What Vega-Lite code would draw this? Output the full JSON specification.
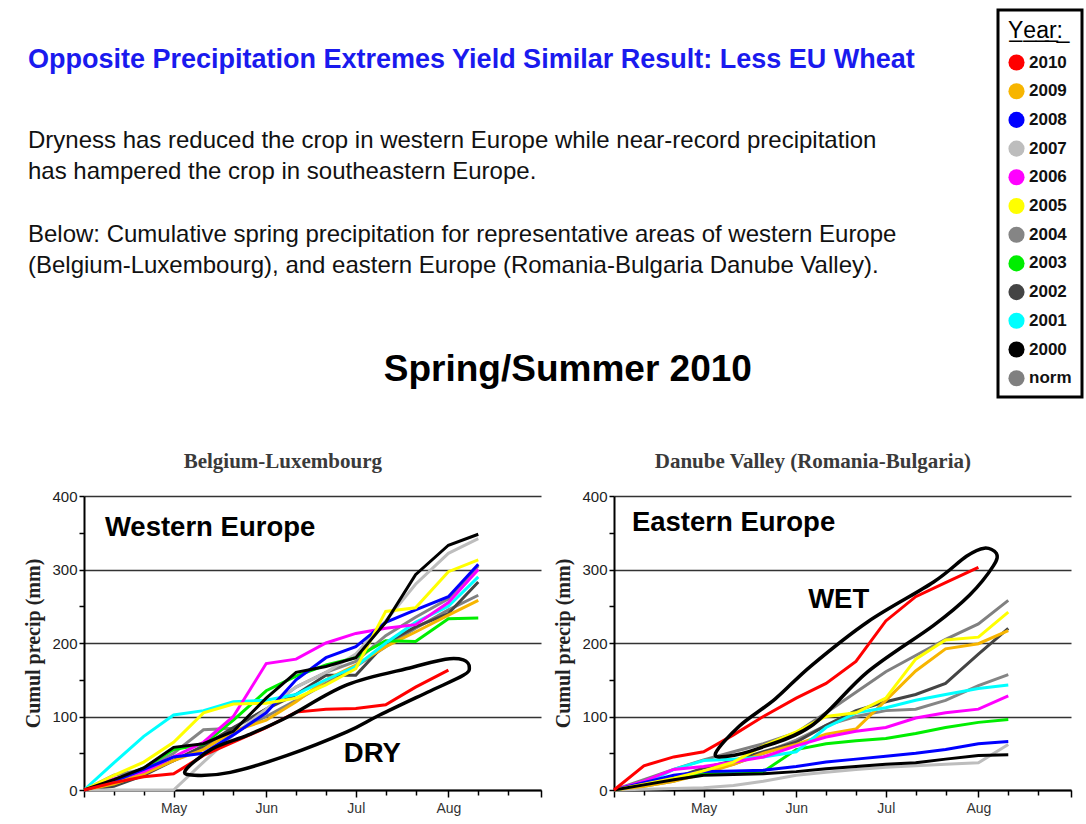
{
  "$schema": "https://vega.github.io/schema/vega-lite/v6.json",
  "padding": {"left": 23, "top": 8, "right": 0, "bottom": 6},
  "background": "white",
  "datasets": {
    "west": [
      {"yr":"norm","d":"2010-04-01","v":0},{"yr":"norm","d":"2010-04-11","v":12},{"yr":"norm","d":"2010-04-21","v":25},{"yr":"norm","d":"2010-05-01","v":40},{"yr":"norm","d":"2010-05-11","v":58},{"yr":"norm","d":"2010-05-21","v":78},{"yr":"norm","d":"2010-06-01","v":100},{"yr":"norm","d":"2010-06-11","v":122},{"yr":"norm","d":"2010-06-21","v":145},{"yr":"norm","d":"2010-07-01","v":168},{"yr":"norm","d":"2010-07-11","v":195},{"yr":"norm","d":"2010-07-21","v":220},{"yr":"norm","d":"2010-08-01","v":245},{"yr":"norm","d":"2010-08-11","v":265},
      {"yr":"2004","d":"2010-04-01","v":0},{"yr":"2004","d":"2010-04-11","v":20},{"yr":"2004","d":"2010-04-21","v":28},{"yr":"2004","d":"2010-05-01","v":50},{"yr":"2004","d":"2010-05-11","v":82},{"yr":"2004","d":"2010-05-21","v":84},{"yr":"2004","d":"2010-06-01","v":110},{"yr":"2004","d":"2010-06-11","v":140},{"yr":"2004","d":"2010-06-21","v":160},{"yr":"2004","d":"2010-07-01","v":175},{"yr":"2004","d":"2010-07-11","v":210},{"yr":"2004","d":"2010-07-21","v":235},{"yr":"2004","d":"2010-08-01","v":260},{"yr":"2004","d":"2010-08-11","v":305},
      {"yr":"2002","d":"2010-04-01","v":0},{"yr":"2002","d":"2010-04-11","v":5},{"yr":"2002","d":"2010-04-21","v":20},{"yr":"2002","d":"2010-05-01","v":40},{"yr":"2002","d":"2010-05-11","v":60},{"yr":"2002","d":"2010-05-21","v":85},{"yr":"2002","d":"2010-06-01","v":110},{"yr":"2002","d":"2010-06-11","v":130},{"yr":"2002","d":"2010-06-21","v":156},{"yr":"2002","d":"2010-07-01","v":156},{"yr":"2002","d":"2010-07-11","v":200},{"yr":"2002","d":"2010-07-21","v":222},{"yr":"2002","d":"2010-08-01","v":240},{"yr":"2002","d":"2010-08-11","v":283},
      {"yr":"2007","d":"2010-04-01","v":0},{"yr":"2007","d":"2010-04-11","v":0},{"yr":"2007","d":"2010-04-21","v":0},{"yr":"2007","d":"2010-05-01","v":0},{"yr":"2007","d":"2010-05-11","v":38},{"yr":"2007","d":"2010-05-21","v":75},{"yr":"2007","d":"2010-06-01","v":110},{"yr":"2007","d":"2010-06-11","v":140},{"yr":"2007","d":"2010-06-21","v":160},{"yr":"2007","d":"2010-07-01","v":185},{"yr":"2007","d":"2010-07-11","v":230},{"yr":"2007","d":"2010-07-21","v":280},{"yr":"2007","d":"2010-08-01","v":322},{"yr":"2007","d":"2010-08-11","v":342},
      {"yr":"2009","d":"2010-04-01","v":0},{"yr":"2009","d":"2010-04-11","v":8},{"yr":"2009","d":"2010-04-21","v":22},{"yr":"2009","d":"2010-05-01","v":40},{"yr":"2009","d":"2010-05-11","v":55},{"yr":"2009","d":"2010-05-21","v":80},{"yr":"2009","d":"2010-06-01","v":95},{"yr":"2009","d":"2010-06-11","v":120},{"yr":"2009","d":"2010-06-21","v":150},{"yr":"2009","d":"2010-07-01","v":170},{"yr":"2009","d":"2010-07-11","v":195},{"yr":"2009","d":"2010-07-21","v":215},{"yr":"2009","d":"2010-08-01","v":238},{"yr":"2009","d":"2010-08-11","v":258},
      {"yr":"2003","d":"2010-04-01","v":0},{"yr":"2003","d":"2010-04-11","v":12},{"yr":"2003","d":"2010-04-21","v":30},{"yr":"2003","d":"2010-05-01","v":55},{"yr":"2003","d":"2010-05-11","v":62},{"yr":"2003","d":"2010-05-21","v":95},{"yr":"2003","d":"2010-06-01","v":135},{"yr":"2003","d":"2010-06-11","v":155},{"yr":"2003","d":"2010-06-21","v":170},{"yr":"2003","d":"2010-07-01","v":180},{"yr":"2003","d":"2010-07-11","v":203},{"yr":"2003","d":"2010-07-21","v":202},{"yr":"2003","d":"2010-08-01","v":233},{"yr":"2003","d":"2010-08-11","v":234},
      {"yr":"2001","d":"2010-04-01","v":0},{"yr":"2001","d":"2010-04-11","v":37},{"yr":"2001","d":"2010-04-21","v":73},{"yr":"2001","d":"2010-05-01","v":102},{"yr":"2001","d":"2010-05-11","v":108},{"yr":"2001","d":"2010-05-21","v":120},{"yr":"2001","d":"2010-06-01","v":122},{"yr":"2001","d":"2010-06-11","v":130},{"yr":"2001","d":"2010-06-21","v":150},{"yr":"2001","d":"2010-07-01","v":168},{"yr":"2001","d":"2010-07-11","v":200},{"yr":"2001","d":"2010-07-21","v":228},{"yr":"2001","d":"2010-08-01","v":250},{"yr":"2001","d":"2010-08-11","v":290},
      {"yr":"2006","d":"2010-04-01","v":0},{"yr":"2006","d":"2010-04-11","v":15},{"yr":"2006","d":"2010-04-21","v":25},{"yr":"2006","d":"2010-05-01","v":45},{"yr":"2006","d":"2010-05-11","v":65},{"yr":"2006","d":"2010-05-21","v":100},{"yr":"2006","d":"2010-06-01","v":172},{"yr":"2006","d":"2010-06-11","v":178},{"yr":"2006","d":"2010-06-21","v":200},{"yr":"2006","d":"2010-07-01","v":213},{"yr":"2006","d":"2010-07-11","v":220},{"yr":"2006","d":"2010-07-21","v":225},{"yr":"2006","d":"2010-08-01","v":255},{"yr":"2006","d":"2010-08-11","v":300},
      {"yr":"2008","d":"2010-04-01","v":0},{"yr":"2008","d":"2010-04-11","v":12},{"yr":"2008","d":"2010-04-21","v":28},{"yr":"2008","d":"2010-05-01","v":45},{"yr":"2008","d":"2010-05-11","v":50},{"yr":"2008","d":"2010-05-21","v":75},{"yr":"2008","d":"2010-06-01","v":105},{"yr":"2008","d":"2010-06-11","v":150},{"yr":"2008","d":"2010-06-21","v":180},{"yr":"2008","d":"2010-07-01","v":195},{"yr":"2008","d":"2010-07-11","v":228},{"yr":"2008","d":"2010-07-21","v":245},{"yr":"2008","d":"2010-08-01","v":263},{"yr":"2008","d":"2010-08-11","v":307},
      {"yr":"2005","d":"2010-04-01","v":0},{"yr":"2005","d":"2010-04-11","v":20},{"yr":"2005","d":"2010-04-21","v":38},{"yr":"2005","d":"2010-05-01","v":65},{"yr":"2005","d":"2010-05-11","v":105},{"yr":"2005","d":"2010-05-21","v":117},{"yr":"2005","d":"2010-06-01","v":118},{"yr":"2005","d":"2010-06-11","v":125},{"yr":"2005","d":"2010-06-21","v":143},{"yr":"2005","d":"2010-07-01","v":165},{"yr":"2005","d":"2010-07-11","v":243},{"yr":"2005","d":"2010-07-21","v":248},{"yr":"2005","d":"2010-08-01","v":297},{"yr":"2005","d":"2010-08-11","v":313},
      {"yr":"2000","d":"2010-04-01","v":0},{"yr":"2000","d":"2010-04-11","v":14},{"yr":"2000","d":"2010-04-21","v":30},{"yr":"2000","d":"2010-05-01","v":58},{"yr":"2000","d":"2010-05-11","v":63},{"yr":"2000","d":"2010-05-21","v":80},{"yr":"2000","d":"2010-06-01","v":125},{"yr":"2000","d":"2010-06-11","v":160},{"yr":"2000","d":"2010-06-21","v":168},{"yr":"2000","d":"2010-07-01","v":180},{"yr":"2000","d":"2010-07-11","v":228},{"yr":"2000","d":"2010-07-21","v":293},{"yr":"2000","d":"2010-08-01","v":333},{"yr":"2000","d":"2010-08-11","v":348},
      {"yr":"2010","d":"2010-04-01","v":0},{"yr":"2010","d":"2010-04-11","v":10},{"yr":"2010","d":"2010-04-21","v":18},{"yr":"2010","d":"2010-05-01","v":22},{"yr":"2010","d":"2010-05-11","v":47},{"yr":"2010","d":"2010-05-21","v":65},{"yr":"2010","d":"2010-06-01","v":85},{"yr":"2010","d":"2010-06-11","v":106},{"yr":"2010","d":"2010-06-21","v":110},{"yr":"2010","d":"2010-07-01","v":111},{"yr":"2010","d":"2010-07-11","v":116},{"yr":"2010","d":"2010-07-21","v":140},{"yr":"2010","d":"2010-08-01","v":163}
    ],
    "east": [
      {"yr":"norm","d":"2010-04-01","v":0},{"yr":"norm","d":"2010-04-11","v":14},{"yr":"norm","d":"2010-04-21","v":28},{"yr":"norm","d":"2010-05-01","v":41},{"yr":"norm","d":"2010-05-11","v":52},{"yr":"norm","d":"2010-05-21","v":63},{"yr":"norm","d":"2010-06-01","v":78},{"yr":"norm","d":"2010-06-11","v":105},{"yr":"norm","d":"2010-06-21","v":133},{"yr":"norm","d":"2010-07-01","v":161},{"yr":"norm","d":"2010-07-11","v":183},{"yr":"norm","d":"2010-07-21","v":205},{"yr":"norm","d":"2010-08-01","v":226},{"yr":"norm","d":"2010-08-11","v":258},
      {"yr":"2004","d":"2010-04-01","v":0},{"yr":"2004","d":"2010-04-11","v":5},{"yr":"2004","d":"2010-04-21","v":12},{"yr":"2004","d":"2010-05-01","v":25},{"yr":"2004","d":"2010-05-11","v":35},{"yr":"2004","d":"2010-05-21","v":50},{"yr":"2004","d":"2010-06-01","v":68},{"yr":"2004","d":"2010-06-11","v":88},{"yr":"2004","d":"2010-06-21","v":100},{"yr":"2004","d":"2010-07-01","v":108},{"yr":"2004","d":"2010-07-11","v":110},{"yr":"2004","d":"2010-07-21","v":122},{"yr":"2004","d":"2010-08-01","v":142},{"yr":"2004","d":"2010-08-11","v":157},
      {"yr":"2002","d":"2010-04-01","v":0},{"yr":"2002","d":"2010-04-11","v":8},{"yr":"2002","d":"2010-04-21","v":16},{"yr":"2002","d":"2010-05-01","v":30},{"yr":"2002","d":"2010-05-11","v":40},{"yr":"2002","d":"2010-05-21","v":52},{"yr":"2002","d":"2010-06-01","v":65},{"yr":"2002","d":"2010-06-11","v":88},{"yr":"2002","d":"2010-06-21","v":108},{"yr":"2002","d":"2010-07-01","v":120},{"yr":"2002","d":"2010-07-11","v":130},{"yr":"2002","d":"2010-07-21","v":145},{"yr":"2002","d":"2010-08-01","v":185},{"yr":"2002","d":"2010-08-11","v":220},
      {"yr":"2007","d":"2010-04-01","v":0},{"yr":"2007","d":"2010-04-11","v":1},{"yr":"2007","d":"2010-04-21","v":2},{"yr":"2007","d":"2010-05-01","v":3},{"yr":"2007","d":"2010-05-11","v":6},{"yr":"2007","d":"2010-05-21","v":12},{"yr":"2007","d":"2010-06-01","v":20},{"yr":"2007","d":"2010-06-11","v":24},{"yr":"2007","d":"2010-06-21","v":28},{"yr":"2007","d":"2010-07-01","v":31},{"yr":"2007","d":"2010-07-11","v":33},{"yr":"2007","d":"2010-07-21","v":35},{"yr":"2007","d":"2010-08-01","v":37},{"yr":"2007","d":"2010-08-11","v":62},
      {"yr":"2009","d":"2010-04-01","v":0},{"yr":"2009","d":"2010-04-11","v":5},{"yr":"2009","d":"2010-04-21","v":12},{"yr":"2009","d":"2010-05-01","v":22},{"yr":"2009","d":"2010-05-11","v":35},{"yr":"2009","d":"2010-05-21","v":50},{"yr":"2009","d":"2010-06-01","v":62},{"yr":"2009","d":"2010-06-11","v":76},{"yr":"2009","d":"2010-06-21","v":83},{"yr":"2009","d":"2010-07-01","v":122},{"yr":"2009","d":"2010-07-11","v":162},{"yr":"2009","d":"2010-07-21","v":192},{"yr":"2009","d":"2010-08-01","v":199},{"yr":"2009","d":"2010-08-11","v":217},
      {"yr":"2003","d":"2010-04-01","v":0},{"yr":"2003","d":"2010-04-11","v":8},{"yr":"2003","d":"2010-04-21","v":18},{"yr":"2003","d":"2010-05-01","v":23},{"yr":"2003","d":"2010-05-11","v":24},{"yr":"2003","d":"2010-05-21","v":25},{"yr":"2003","d":"2010-06-01","v":55},{"yr":"2003","d":"2010-06-11","v":63},{"yr":"2003","d":"2010-06-21","v":67},{"yr":"2003","d":"2010-07-01","v":70},{"yr":"2003","d":"2010-07-11","v":77},{"yr":"2003","d":"2010-07-21","v":85},{"yr":"2003","d":"2010-08-01","v":92},{"yr":"2003","d":"2010-08-11","v":96},
      {"yr":"2001","d":"2010-04-01","v":0},{"yr":"2001","d":"2010-04-11","v":8},{"yr":"2001","d":"2010-04-21","v":28},{"yr":"2001","d":"2010-05-01","v":40},{"yr":"2001","d":"2010-05-11","v":42},{"yr":"2001","d":"2010-05-21","v":45},{"yr":"2001","d":"2010-06-01","v":52},{"yr":"2001","d":"2010-06-11","v":85},{"yr":"2001","d":"2010-06-21","v":105},{"yr":"2001","d":"2010-07-01","v":112},{"yr":"2001","d":"2010-07-11","v":122},{"yr":"2001","d":"2010-07-21","v":130},{"yr":"2001","d":"2010-08-01","v":138},{"yr":"2001","d":"2010-08-11","v":143},
      {"yr":"2006","d":"2010-04-01","v":0},{"yr":"2006","d":"2010-04-11","v":12},{"yr":"2006","d":"2010-04-21","v":28},{"yr":"2006","d":"2010-05-01","v":32},{"yr":"2006","d":"2010-05-11","v":38},{"yr":"2006","d":"2010-05-21","v":45},{"yr":"2006","d":"2010-06-01","v":60},{"yr":"2006","d":"2010-06-11","v":72},{"yr":"2006","d":"2010-06-21","v":80},{"yr":"2006","d":"2010-07-01","v":85},{"yr":"2006","d":"2010-07-11","v":98},{"yr":"2006","d":"2010-07-21","v":105},{"yr":"2006","d":"2010-08-01","v":110},{"yr":"2006","d":"2010-08-11","v":128},
      {"yr":"2008","d":"2010-04-01","v":0},{"yr":"2008","d":"2010-04-11","v":10},{"yr":"2008","d":"2010-04-21","v":20},{"yr":"2008","d":"2010-05-01","v":25},{"yr":"2008","d":"2010-05-11","v":26},{"yr":"2008","d":"2010-05-21","v":27},{"yr":"2008","d":"2010-06-01","v":32},{"yr":"2008","d":"2010-06-11","v":38},{"yr":"2008","d":"2010-06-21","v":42},{"yr":"2008","d":"2010-07-01","v":46},{"yr":"2008","d":"2010-07-11","v":50},{"yr":"2008","d":"2010-07-21","v":55},{"yr":"2008","d":"2010-08-01","v":63},{"yr":"2008","d":"2010-08-11","v":66},
      {"yr":"2005","d":"2010-04-01","v":0},{"yr":"2005","d":"2010-04-11","v":8},{"yr":"2005","d":"2010-04-21","v":16},{"yr":"2005","d":"2010-05-01","v":26},{"yr":"2005","d":"2010-05-11","v":38},{"yr":"2005","d":"2010-05-21","v":60},{"yr":"2005","d":"2010-06-01","v":79},{"yr":"2005","d":"2010-06-11","v":100},{"yr":"2005","d":"2010-06-21","v":105},{"yr":"2005","d":"2010-07-01","v":125},{"yr":"2005","d":"2010-07-11","v":178},{"yr":"2005","d":"2010-07-21","v":204},{"yr":"2005","d":"2010-08-01","v":208},{"yr":"2005","d":"2010-08-11","v":242},
      {"yr":"2000","d":"2010-04-01","v":0},{"yr":"2000","d":"2010-04-11","v":7},{"yr":"2000","d":"2010-04-21","v":14},{"yr":"2000","d":"2010-05-01","v":20},{"yr":"2000","d":"2010-05-11","v":21},{"yr":"2000","d":"2010-05-21","v":22},{"yr":"2000","d":"2010-06-01","v":25},{"yr":"2000","d":"2010-06-11","v":29},{"yr":"2000","d":"2010-06-21","v":32},{"yr":"2000","d":"2010-07-01","v":35},{"yr":"2000","d":"2010-07-11","v":37},{"yr":"2000","d":"2010-07-21","v":42},{"yr":"2000","d":"2010-08-01","v":47},{"yr":"2000","d":"2010-08-11","v":48},
      {"yr":"2010","d":"2010-04-01","v":0},{"yr":"2010","d":"2010-04-11","v":33},{"yr":"2010","d":"2010-04-21","v":45},{"yr":"2010","d":"2010-05-01","v":52},{"yr":"2010","d":"2010-05-11","v":75},{"yr":"2010","d":"2010-05-21","v":100},{"yr":"2010","d":"2010-06-01","v":125},{"yr":"2010","d":"2010-06-11","v":145},{"yr":"2010","d":"2010-06-21","v":175},{"yr":"2010","d":"2010-07-01","v":230},{"yr":"2010","d":"2010-07-11","v":263},{"yr":"2010","d":"2010-07-21","v":282},{"yr":"2010","d":"2010-08-01","v":303}
    ],
    "ellW": [
      {"i":1,"d":"2010-05-05","v":27},{"i":2,"d":"2010-05-14","v":56},{"i":3,"d":"2010-05-26","v":75},{"i":4,"d":"2010-06-08","v":99},{"i":5,"d":"2010-06-28","v":143},{"i":6,"d":"2010-07-20","v":167},{"i":7,"d":"2010-07-31","v":178},{"i":8,"d":"2010-08-06","v":177},{"i":9,"d":"2010-08-08","v":167},{"i":10,"d":"2010-08-06","v":156},{"i":11,"d":"2010-07-25","v":133},{"i":12,"d":"2010-07-09","v":102},{"i":13,"d":"2010-06-28","v":79},{"i":14,"d":"2010-06-08","v":47},{"i":15,"d":"2010-05-20","v":24},{"i":16,"d":"2010-05-08","v":20}
    ],
    "ellE": [
      {"i":1,"d":"2010-05-05","v":50},{"i":2,"d":"2010-05-13","v":87},{"i":3,"d":"2010-05-25","v":124},{"i":4,"d":"2010-06-06","v":169},{"i":5,"d":"2010-06-25","v":229},{"i":6,"d":"2010-07-17","v":283},{"i":7,"d":"2010-07-28","v":318},{"i":8,"d":"2010-08-03","v":329},{"i":9,"d":"2010-08-07","v":322},{"i":10,"d":"2010-08-06","v":305},{"i":11,"d":"2010-07-29","v":265},{"i":12,"d":"2010-07-17","v":224},{"i":13,"d":"2010-06-25","v":161},{"i":14,"d":"2010-06-06","v":87},{"i":15,"d":"2010-05-19","v":56},{"i":16,"d":"2010-05-09","v":46}
    ],
    "annW": [{"t":"Western Europe","d":"2010-04-08","v":356},{"t":"DRY","d":"2010-06-27","v":49}],
    "annE": [{"t":"Eastern Europe","d":"2010-04-07","v":363},{"t":"WET","d":"2010-06-05","v":258}]
  },
  "vconcat": [
    {
      "title": {
        "text": "Opposite Precipitation Extremes Yield Similar Result: Less EU Wheat",
        "subtitle": ["Dryness has reduced the crop in western Europe while near-record precipitation", "has hampered the crop in southeastern Europe."],
        "anchor": "start", "frame": "bounds", "dx": 4,
        "font": "Liberation Sans", "fontSize": 27, "fontWeight": "bold", "color": "#1a1aee",
        "subtitleFont": "Liberation Sans", "subtitleFontSize": 24, "subtitleColor": "#111111",
        "subtitleLineHeight": 31, "subtitlePadding": 55, "offset": 38
      },
      "resolve": {"scale": {"color": "shared"}, "legend": {"color": "shared"}},
      "vconcat": [
        {
          "title": {
            "text": ["Below: Cumulative spring precipitation for representative areas of western Europe", "(Belgium-Luxembourg), and eastern Europe (Romania-Bulgaria Danube Valley)."],
            "anchor": "start", "frame": "bounds", "dx": 4,
            "font": "Liberation Sans", "fontSize": 24, "fontWeight": "normal", "color": "#111111",
            "lineHeight": 31, "offset": 73
          },
          "resolve": {"scale": {"color": "shared"}, "legend": {"color": "shared"}},
          "vconcat": [
            {
              "title": {"text": "Spring/Summer 2010", "font": "Liberation Sans", "fontSize": 37, "fontWeight": "bold", "color": "#000000", "anchor": "middle", "frame": "bounds", "offset": 62, "dx": 20},
              "spacing": 11,
              "resolve": {"scale": {"color": "shared"}, "legend": {"color": "shared"}},
              "hconcat": [
                {
                  "width": 457, "height": 294,
                  "title": {"text": "Belgium-Luxembourg", "font": "Liberation Serif", "fontSize": 21, "fontWeight": "bold", "color": "#3a3a3a", "anchor": "middle", "frame": "bounds", "offset": 17},
                  "encoding": {
                    "x": {"field": "d", "type": "temporal",
                      "scale": {"type": "utc", "domain": [{"year":2010,"month":4,"date":1,"utc":true},{"year":2010,"month":9,"date":1,"utc":true}], "nice": false},
                      "axis": {"title": null, "grid": false, "domainColor": "#000000", "domainWidth": 2,
                        "tickColor": "#000000", "tickWidth": 1.5, "tickSize": {"condition": {"test": "utcdate(datum.value) == 1", "value": 7}, "value": 5},
                        "labelFont": "Liberation Sans", "labelFontSize": 14, "labelColor": "#333333", "labelPadding": 4,
                        "labelOverlap": false, "labelFlush": false, "format": "%b", "formatType": "utc",
                        "values": [
                          {"year":2010,"month":4,"date":1,"utc":true},{"year":2010,"month":4,"date":11,"utc":true},{"year":2010,"month":4,"date":21,"utc":true},
                          {"year":2010,"month":5,"date":1,"utc":true},{"year":2010,"month":5,"date":11,"utc":true},{"year":2010,"month":5,"date":21,"utc":true},
                          {"year":2010,"month":6,"date":1,"utc":true},{"year":2010,"month":6,"date":11,"utc":true},{"year":2010,"month":6,"date":21,"utc":true},
                          {"year":2010,"month":7,"date":1,"utc":true},{"year":2010,"month":7,"date":11,"utc":true},{"year":2010,"month":7,"date":21,"utc":true},
                          {"year":2010,"month":8,"date":1,"utc":true},{"year":2010,"month":8,"date":11,"utc":true},{"year":2010,"month":8,"date":21,"utc":true},
                          {"year":2010,"month":9,"date":1,"utc":true}
                        ],
                        "labelExpr": "utcdate(datum.value) == 1 && utcmonth(datum.value) > 3 && utcmonth(datum.value) < 8 ? utcFormat(datum.value, '%b') : ''"}
                    },
                    "y": {"field": "v", "type": "quantitative",
                      "scale": {"domain": [0, 400], "nice": false},
                      "axis": {"title": "Cumul precip (mm)", "titleFont": "Liberation Serif", "titleFontSize": 20, "titleFontWeight": "bold", "titleColor": "#222222", "titlePadding": 8,
                        "values": [0,50,100,150,200,250,300,350,400],
                        "labelExpr": "datum.value % 100 == 0 ? datum.label : ''",
                        "grid": true, "gridWidth": 1.5,
                        "gridColor": {"condition": {"test": "datum.value % 100 == 0", "value": "#333333"}, "value": "transparent"},
                        "domainColor": "#000000", "domainWidth": 2, "tickColor": "#000000", "tickWidth": 1.5, "tickSize": 5,
                        "labelFont": "Liberation Sans", "labelFontSize": 15, "labelColor": "#222222", "labelPadding": 2}
                    }
                  },
                  "layer": [
                    {
                      "data": {"name": "west"},
                      "mark": {"type": "line", "strokeWidth": 3},
                      "encoding": {
                        "color": {"field": "yr", "type": "nominal",
                          "scale": {"domain": ["2010","2009","2008","2007","2006","2005","2004","2003","2002","2001","2000","norm"],
                                    "range": ["#ff0000","#f7b500","#0000ff","#bdbdbd","#ff00ff","#ffff00","#858585","#00ee00","#444444","#00ffff","#000000","#808080"]},
                          "legend": {"orient": "none", "legendX": 914, "legendY": -486, "title": "Y\u0332e\u0332a\u0332r\u0332:\u0332", "titleFont": "Liberation Sans", "titleFontSize": 23, "titleFontWeight": "normal", "titleColor": "#000000", "titlePadding": 11,
                            "symbolType": "circle", "symbolSize": 260, "symbolStrokeWidth": 0, "labelFont": "Liberation Sans", "labelFontSize": 17, "labelFontWeight": "bold", "labelColor": "#111111", "labelOffset": 4,
                            "labelExpr": "datum.label + '\u00a0\u00a0\u00a0'",
                            "rowPadding": 10.7, "padding": 10, "strokeColor": "#000000", "fillColor": "#ffffff",
                            "encode": {"symbols": {"update": {"fill": {"scale": "color", "field": "value"}, "stroke": {"value": "transparent"}, "opacity": {"value": 1}}}, "legend": {"update": {"strokeWidth": {"value": 3}}}}}
                        }
                      }
                    },
                    {
                      "data": {"name": "ellW"},
                      "mark": {"type": "line", "interpolate": "cardinal-closed", "stroke": "black", "strokeWidth": 3.5},
                      "encoding": {"order": {"field": "i", "type": "quantitative"}}
                    },
                    {
                      "data": {"name": "annW"},
                      "mark": {"type": "text", "align": "left", "baseline": "middle", "font": "Liberation Sans", "fontSize": 27.5, "fontWeight": "bold", "color": "black"},
                      "encoding": {"text": {"field": "t"}}
                    }
                  ]
                },
                {
                  "width": 457, "height": 294,
                  "title": {"text": "Danube Valley (Romania-Bulgaria)", "font": "Liberation Serif", "fontSize": 21, "fontWeight": "bold", "color": "#3a3a3a", "anchor": "middle", "frame": "bounds", "offset": 17},
                  "encoding": {
                    "x": {"field": "d", "type": "temporal",
                      "scale": {"type": "utc", "domain": [{"year":2010,"month":4,"date":1,"utc":true},{"year":2010,"month":9,"date":1,"utc":true}], "nice": false},
                      "axis": {"title": null, "grid": false, "domainColor": "#000000", "domainWidth": 2,
                        "tickColor": "#000000", "tickWidth": 1.5, "tickSize": {"condition": {"test": "utcdate(datum.value) == 1", "value": 7}, "value": 5},
                        "labelFont": "Liberation Sans", "labelFontSize": 14, "labelColor": "#333333", "labelPadding": 4,
                        "labelOverlap": false, "labelFlush": false, "format": "%b", "formatType": "utc",
                        "values": [
                          {"year":2010,"month":4,"date":1,"utc":true},{"year":2010,"month":4,"date":11,"utc":true},{"year":2010,"month":4,"date":21,"utc":true},
                          {"year":2010,"month":5,"date":1,"utc":true},{"year":2010,"month":5,"date":11,"utc":true},{"year":2010,"month":5,"date":21,"utc":true},
                          {"year":2010,"month":6,"date":1,"utc":true},{"year":2010,"month":6,"date":11,"utc":true},{"year":2010,"month":6,"date":21,"utc":true},
                          {"year":2010,"month":7,"date":1,"utc":true},{"year":2010,"month":7,"date":11,"utc":true},{"year":2010,"month":7,"date":21,"utc":true},
                          {"year":2010,"month":8,"date":1,"utc":true},{"year":2010,"month":8,"date":11,"utc":true},{"year":2010,"month":8,"date":21,"utc":true},
                          {"year":2010,"month":9,"date":1,"utc":true}
                        ],
                        "labelExpr": "utcdate(datum.value) == 1 && utcmonth(datum.value) > 3 && utcmonth(datum.value) < 8 ? utcFormat(datum.value, '%b') : ''"}
                    },
                    "y": {"field": "v", "type": "quantitative",
                      "scale": {"domain": [0, 400], "nice": false},
                      "axis": {"title": "Cumul precip (mm)", "titleFont": "Liberation Serif", "titleFontSize": 20, "titleFontWeight": "bold", "titleColor": "#222222", "titlePadding": 8,
                        "values": [0,50,100,150,200,250,300,350,400],
                        "labelExpr": "datum.value % 100 == 0 ? datum.label : ''",
                        "grid": true, "gridWidth": 1.5,
                        "gridColor": {"condition": {"test": "datum.value % 100 == 0", "value": "#333333"}, "value": "transparent"},
                        "domainColor": "#000000", "domainWidth": 2, "tickColor": "#000000", "tickWidth": 1.5, "tickSize": 5,
                        "labelFont": "Liberation Sans", "labelFontSize": 15, "labelColor": "#222222", "labelPadding": 2}
                    }
                  },
                  "layer": [
                    {
                      "data": {"name": "east"},
                      "mark": {"type": "line", "strokeWidth": 3},
                      "encoding": {
                        "color": {"field": "yr", "type": "nominal",
                          "scale": {"domain": ["2010","2009","2008","2007","2006","2005","2004","2003","2002","2001","2000","norm"],
                                    "range": ["#ff0000","#f7b500","#0000ff","#bdbdbd","#ff00ff","#ffff00","#858585","#00ee00","#444444","#00ffff","#000000","#808080"]},
                          "legend": {"orient": "none", "legendX": 914, "legendY": -486, "title": "Y\u0332e\u0332a\u0332r\u0332:\u0332", "titleFont": "Liberation Sans", "titleFontSize": 23, "titleFontWeight": "normal", "titleColor": "#000000", "titlePadding": 11,
                            "symbolType": "circle", "symbolSize": 260, "symbolStrokeWidth": 0, "labelFont": "Liberation Sans", "labelFontSize": 17, "labelFontWeight": "bold", "labelColor": "#111111", "labelOffset": 4,
                            "labelExpr": "datum.label + '\u00a0\u00a0\u00a0'",
                            "rowPadding": 10.7, "padding": 10, "strokeColor": "#000000", "fillColor": "#ffffff",
                            "encode": {"symbols": {"update": {"fill": {"scale": "color", "field": "value"}, "stroke": {"value": "transparent"}, "opacity": {"value": 1}}}, "legend": {"update": {"strokeWidth": {"value": 3}}}}}
                        }
                      }
                    },
                    {
                      "data": {"name": "ellE"},
                      "mark": {"type": "line", "interpolate": "cardinal-closed", "stroke": "black", "strokeWidth": 3.5},
                      "encoding": {"order": {"field": "i", "type": "quantitative"}}
                    },
                    {
                      "data": {"name": "annE"},
                      "mark": {"type": "text", "align": "left", "baseline": "middle", "font": "Liberation Sans", "fontSize": 27.5, "fontWeight": "bold", "color": "black"},
                      "encoding": {"text": {"field": "t"}}
                    }
                  ]
                }
              ]
            }
          ]
        }
      ]
    }
  ],
  "resolve": {"scale": {"color": "shared"}, "legend": {"color": "shared"}},
  "config": {
    "view": {"stroke": null},
    "font": "Liberation Sans"
  }
}
